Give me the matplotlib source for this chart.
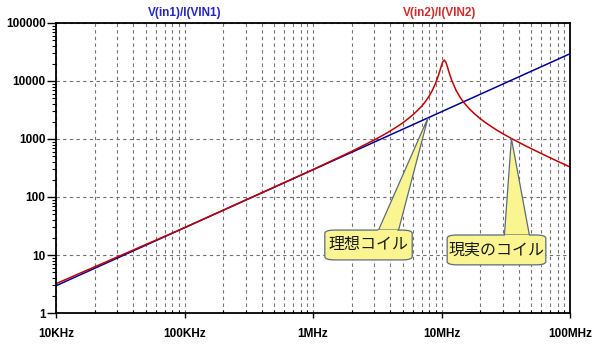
import numpy as np
import matplotlib
matplotlib.use('Agg')
import matplotlib.pyplot as plt
from matplotlib.patches import FancyBboxPatch, Polygon
from matplotlib.ticker import FixedLocator, LogLocator, NullFormatter

# impedance of ideal inductor (blue) and real inductor with self-resonance (red)
freq_ideal = [1e4, 1e5, 1e6, 1e7, 1e8]
z_ideal = [2.95, 29.5, 295, 2950, 29500]

freq_real = [1e4, 1e5, 1e6, 2e6, 3e6, 3.5e6, 4e6, 4.5e6, 5e6, 5.5e6, 6e6, 6.5e6,
             7e6, 7.5e6, 8e6, 8.5e6, 9e6, 9.5e6, 9.8e6, 10e6, 10.2e6, 10.5e6,
             10.8e6, 11e6, 11.5e6, 12e6, 13e6, 14e6, 15e6, 16.5e6, 18e6, 20e6,
             22e6, 27e6, 30e6, 35e6, 45e6, 60e6, 80e6, 100e6]
z_real = [3.2, 29.6, 297, 612, 963, 1161, 1380, 1625, 1900, 2235, 2620, 3100,
          3660, 4430, 5460, 6930, 9170, 12800, 16000, 18600, 21100, 23000,
          21200, 18900, 13700, 10300, 6870, 5180, 4200, 3300, 2740, 2245,
          1913, 1418, 1234, 1021, 764, 559, 413, 329]

xtick_pos = [1e4, 1e5, 1e6, 1e7, 1e8]
xtick_labels = ['10KHz', '100KHz', '1MHz', '10MHz', '100MHz']
ytick_pos = [1, 10, 100, 1000, 10000, 100000]
ytick_labels = ['1', '10', '100', '1000', '10000', '100000']

trace_names = ['V(in1)/I(VIN1)', 'V(in2)/I(VIN2)']
callout_text = ['理想コイル', '現実のコイル']

plt.rcParams['font.family'] = ['Liberation Sans', 'DejaVu Sans']

fig = plt.figure(figsize=(6, 3.44), dpi=100)
ax = fig.add_axes([56 / 600, 31 / 344, 514 / 600, 290 / 344])
ax.set_xscale('log')
ax.set_yscale('log')
ax.set_xlim(1e4, 1e8)
ax.set_ylim(1, 1e5)

ax.plot(freq_ideal, z_ideal, color='#000099', lw=1.1, zorder=3)
ax.plot(freq_real, z_real, color='#C40000', lw=1.1, zorder=4)

# ticks and grid
ax.xaxis.set_major_locator(FixedLocator(xtick_pos))
ax.set_xticklabels(xtick_labels, fontweight='bold', fontsize=8.5)
ax.xaxis.set_minor_locator(LogLocator(base=10, subs=np.arange(2, 10)))
ax.xaxis.set_minor_formatter(NullFormatter())
ax.yaxis.set_major_locator(FixedLocator(ytick_pos))
ax.set_yticklabels(ytick_labels, fontweight='bold', fontsize=8.5)
ax.yaxis.set_minor_locator(LogLocator(base=10, subs=np.arange(2, 10)))
ax.yaxis.set_minor_formatter(NullFormatter())

ax.tick_params(axis='x', which='major', direction='out', length=3.6, width=1, pad=7)
ax.tick_params(axis='x', which='minor', direction='in', length=2.2, width=0.8)
ax.tick_params(axis='y', which='major', direction='out', length=6.5, width=1, pad=1)
ax.tick_params(axis='y', which='minor', direction='out', length=3, width=0.8)

grid_kw = dict(color='#707070', lw=0.8, ls=(0, (3, 3)))
ax.grid(True, which='major', axis='both', **grid_kw)
ax.grid(True, which='minor', axis='x', **grid_kw)
for s in ax.spines.values():
    s.set_linewidth(1.3)
    s.set_color('black')
    s.set_zorder(5)

# trace names above the plot
fig.text(185 / 600, 1 - 13 / 344, trace_names[0], color='#2626C8',
         fontweight='bold', fontsize=8.5, ha='center', va='center')
fig.text(440 / 600, 1 - 13 / 344, trace_names[1], color='#D22B2B',
         fontweight='bold', fontsize=8.5, ha='center', va='center')


def callout(tip, box, base, text):
    # tip in data coords, box (x0, y0, w, h) and base (xa, xb) in axes fraction
    tx, ty = ax.transAxes.inverted().transform(ax.transData.transform(tip))
    x0, y0, w, h = box
    ytop = y0 + h
    wedge = Polygon([(base[0], ytop - 0.01), (tx, ty), (base[1], ytop - 0.01)],
                    closed=True, transform=ax.transAxes, facecolor='#FAF590',
                    edgecolor='#5C6B7E', lw=0.9, zorder=6)
    ax.add_patch(wedge)
    bb = FancyBboxPatch((x0, y0), w, h, boxstyle='round,pad=0,rounding_size=0.02',
                        transform=ax.transAxes, facecolor='#FAF590',
                        edgecolor='#5C6B7E', lw=0.9, zorder=7,
                        mutation_aspect=290 / 514)
    ax.add_patch(bb)
    # cover the wedge base so the box reads as one shape
    cover = Polygon([(base[0] + 0.002, ytop - 0.02), (base[0] + 0.002, ytop + 0.001),
                     (base[1] - 0.002, ytop + 0.001), (base[1] - 0.002, ytop - 0.02)],
                    closed=True, transform=ax.transAxes, facecolor='#FAF590',
                    edgecolor='none', zorder=8)
    ax.add_patch(cover)
    ax.text(x0 + w / 2, y0 + h / 2, text, transform=ax.transAxes,
            family=['Noto Sans CJK JP', 'DejaVu Sans'], fontsize=11.5,
            ha='center', va='center', color='#1A1A1A', zorder=9)


callout((7.85e6, 2316), (0.523, 0.183, 0.170, 0.103), (0.625, 0.665), callout_text[0])
callout((35e6, 1021), (0.761, 0.166, 0.192, 0.103), (0.872, 0.922), callout_text[1])

fig.savefig('out.png', dpi=100)
